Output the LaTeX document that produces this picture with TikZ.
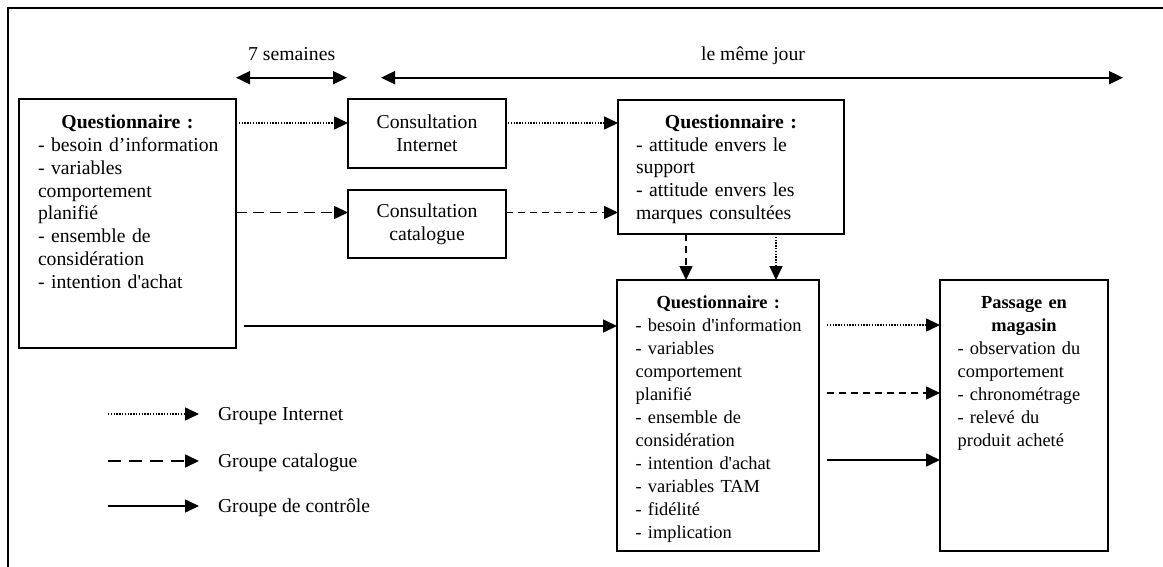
\documentclass[tikz,border=0pt]{standalone}
\usepackage{fontspec}
\setmainfont{Liberation Serif}[Ligatures=TeXOff]
\usetikzlibrary{arrows.meta,calc}
\newcommand\li[1]{\mbox{#1}}
\tikzset{
  box/.style={draw, line width=1.8pt, rectangle, inner sep=0pt, outer sep=0pt, anchor=north west},
  big/.style={font=\fontsize{19.7}{22.8}\selectfont},
  small/.style={font=\fontsize{18.4}{23}\selectfont},
  txt/.style={anchor=north west, inner sep=0pt, outer sep=0pt},
  lab/.style={inner sep=0pt, outer sep=0pt, font=\fontsize{19.7}{22.8}\selectfont},
  arr/.style={line width=1.6pt, -{Triangle[length=14pt,width=13pt]}},
  dbl/.style={line width=1.8pt, {Triangle[length=14pt,width=13pt]}-{Triangle[length=14pt,width=13pt]}},
  dotl/.style={arr, dash pattern=on 1.4pt off 1.4pt},
  dashl/.style={arr, dash pattern=on 11pt off 6pt},
  sdashl/.style={arr, dash pattern=on 7pt off 5pt},
  soll/.style={arr},
}
\begin{document}
\begin{tikzpicture}[x=1pt,y=-1pt]
\useasboundingbox (0,0) rectangle (1163,567);
\clip (0,0) rectangle (1163,567);
\fill[white] (0,0) rectangle (1163,567);
% frame
\draw[line width=1.8pt] (8,580) -- (8,8) -- (1175,8);

% boxes
\node[box, minimum width=217pt, minimum height=249pt] (q1) at (19,99) {};
\node[txt, big, text width=179pt] (q1t) at ([xshift=19pt,yshift=-13.7pt]q1.north west)
 {\parindent=0pt{\centering\bfseries\strut Questionnaire :\par}
  \raggedright \li{- besoin d’information}\\\li{- variables}\\\li{comportement}\\\li{planifié}\\\li{- ensemble de}\\\li{considération}\\\li{- intention d'achat}};

\node[box, big, minimum width=158pt, minimum height=69pt, align=center] (ci) at (348,99) {Consultation\\Internet};
\node[box, big, minimum width=158pt, minimum height=68pt, align=center] (cc) at (348,190) {Consultation\\catalogue};

\node[box, minimum width=226pt, minimum height=134pt] (q2) at (618,100) {};
\node[txt, big, text width=190pt] (q2t) at ([xshift=18pt,yshift=-12.3pt]q2.north west)
 {\parindent=0pt{\centering\bfseries\strut Questionnaire :\par}
  \raggedright \li{- attitude envers le}\\\li{support}\\\li{- attitude envers les}\\\li{marques consultées}};

\node[box, minimum width=202pt, minimum height=271pt] (q3) at (617,280) {};
\node[txt, small, text width=165pt] (q3t) at ([xshift=18.7pt,yshift=-12pt]q3.north west)
 {\parindent=0pt{\centering\bfseries\strut Questionnaire :\par}
  \raggedright \li{- besoin d'information}\\\li{- variables}\\\li{comportement}\\\li{planifié}\\\li{- ensemble de}\\\li{considération}\\\li{- intention d'achat}\\\li{- variables TAM}\\\li{- fidélité}\\\li{- implication}};

\node[box, minimum width=168pt, minimum height=271pt] (pm) at (940,280) {};
\node[txt, small, text width=132.6pt] (pmt) at ([xshift=17.7pt,yshift=-12pt]pm.north west)
 {\parindent=0pt{\centering\bfseries\strut Passage en\\magasin\par}
  \raggedright \li{- observation du}\\\li{comportement}\\\li{- chronométrage}\\\li{- relevé du}\\\li{produit acheté}};

% timeline
\node[lab, anchor=base] (sem) at (291.7,60.5) {7 semaines};
\node[lab, anchor=base] (jour) at (753,60.5) {le même jour};
\coordinate (t1l) at (236,77.7);
\coordinate (t1r) at (347,77.7);
\coordinate (t2l) at (381,77.7);
\coordinate (t2r) at (1123,77.7);
\draw[dbl] (t1l) -- (t1r);
\draw[dbl] (t2l) -- (t2r);

% connectors
\draw[dotl] ([yshift=-24pt]q1.north east) -- ([yshift=-24pt]ci.north west);
\draw[dashl] ([yshift=11.5pt]cc.west -| q1.east) -- ([yshift=11.5pt]cc.west);
\coordinate (a3) at ([yshift=-46pt]q3.north west);
\draw[soll] ([xshift=8pt]q1.east |- a3) -- (a3);
\draw[dotl] ([xshift=2pt,yshift=10.5pt]ci.east) -- ([yshift=-23pt]q2.north west);
\draw[sdashl] ([yshift=11.5pt]cc.east) -- ([yshift=11.5pt]cc.east -| q2.west);
\draw[sdashl] ([xshift=68pt]q2.south west) -- ([xshift=69pt]q3.north west);
\draw[dotl] ([xshift=158pt]q2.south west) -- ([xshift=159pt]q3.north west);
\draw[dotl] ([xshift=8pt,yshift=-45pt]q3.north east) -- ([yshift=-45pt]pm.north west);
\draw[sdashl] ([xshift=8pt,yshift=-113pt]q3.north east) -- ([yshift=-113pt]pm.north west);
\draw[soll] ([xshift=8pt,yshift=-180pt]q3.north east) -- ([yshift=-180pt]pm.north west);

% legend
\node[lab, anchor=base west] (lgi) at (218,420.5) {Groupe Internet};
\node[lab, anchor=base west] (lgc) at (218,467.5) {Groupe catalogue};
\node[lab, anchor=base west] (lgs) at (218,512.5) {Groupe de contrôle};
\draw[dotl] ([xshift=-110pt,yshift=6.5pt]lgi.base west) -- ([xshift=-19pt,yshift=6.5pt]lgi.base west);
\draw[dashl, dash pattern=on 13pt off 8pt] ([xshift=-110pt,yshift=6.5pt]lgc.base west) -- ([xshift=-19pt,yshift=6.5pt]lgc.base west);
\draw[soll] ([xshift=-110pt,yshift=6.5pt]lgs.base west) -- ([xshift=-19pt,yshift=6.5pt]lgs.base west);
\end{tikzpicture}
\end{document}
